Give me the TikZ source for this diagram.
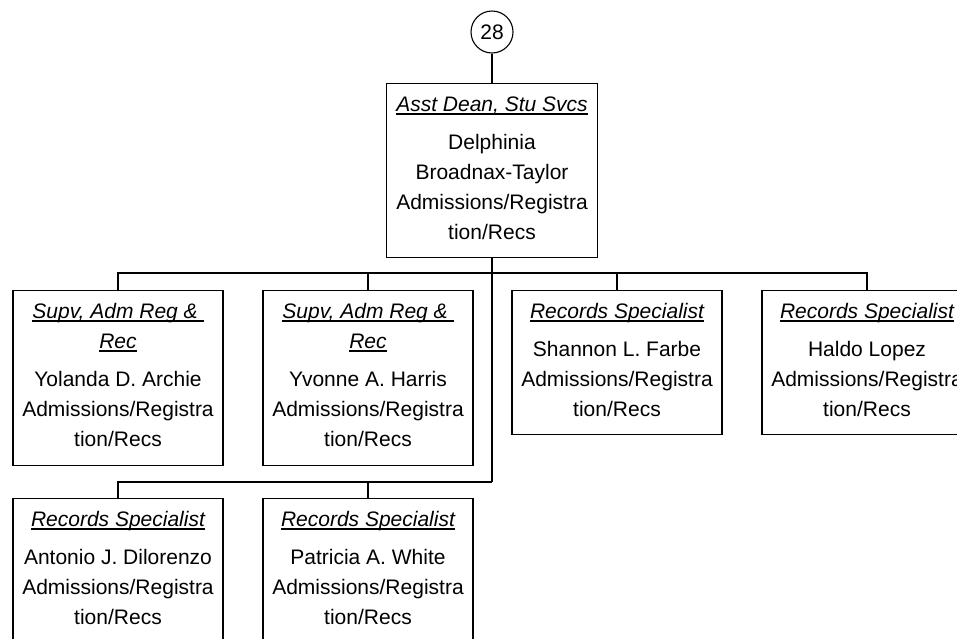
\documentclass[tikz,border=0pt]{standalone}
\usepackage{fontspec}
\setmainfont{Liberation Sans}
\newcommand\ulx[1]{{\setbox0=\hbox{#1}\rlap{\rule[-3.5pt]{\wd0}{1.1pt}}\box0}}
\begin{document}
\begin{tikzpicture}[x=1pt,y=-1pt,line width=1.1pt,
  box/.style={draw,rectangle,inner sep=0pt,minimum width=210pt,anchor=north},
  txt/.style={anchor=north,inner sep=0pt,align=center,yshift=-6.5pt,
    font=\fontsize{21}{30}\selectfont},
  circ/.style={draw,circle,inner sep=0pt,minimum size=42pt,font=\fontsize{21}{30}\selectfont}]
\useasboundingbox (0,0) rectangle (957,638);
% circle
\node[circ] (c) at (492,32) {28};
% top box
\node[box,minimum width=211pt,minimum height=174pt] (top) at (492,83) {};
\node[txt] (ttop) at (top.north) {\strut\ulx{\itshape Asst Dean, Stu Svcs}\\[8pt]Delphinia\\Broadnax-Taylor\\Admissions/Registra\\tion/Recs};
% row 1
\node[box,minimum height=175pt] (b1) at (118,290) {};
\node[txt] (t1) at (b1.north) {\strut\ulx{\itshape Supv, Adm Reg \& }\\\ulx{\itshape Rec}\\[8pt]Yolanda D. Archie\\Admissions/Registra\\tion/Recs};
\node[box,minimum height=175pt] (b2) at (368,290) {};
\node[txt] (t2) at (b2.north) {\strut\ulx{\itshape Supv, Adm Reg \& }\\\ulx{\itshape Rec}\\[8pt]Yvonne A. Harris\\Admissions/Registra\\tion/Recs};
\node[box,minimum height=144pt] (b3) at (617,290) {};
\node[txt] (t3) at (b3.north) {\strut\ulx{\itshape Records Specialist}\\[8pt]Shannon L. Farbe\\Admissions/Registra\\tion/Recs};
\node[box,minimum height=144pt] (b4) at (867,290) {};
\node[txt] (t4) at (b4.north) {\strut\ulx{\itshape Records Specialist}\\[8pt]Haldo Lopez\\Admissions/Registra\\tion/Recs};
% row 2
\node[box,minimum height=144pt] (c1) at (118,498) {};
\node[txt] (u1) at (c1.north) {\strut\ulx{\itshape Records Specialist}\\[8pt]Antonio J. Dilorenzo\\Admissions/Registra\\tion/Recs};
\node[box,minimum height=144pt] (c2) at (368,498) {};
\node[txt] (u2) at (c2.north) {\strut\ulx{\itshape Records Specialist}\\[8pt]Patricia A. White\\Admissions/Registra\\tion/Recs};
% junctions
\coordinate (j1) at (492,273);
\coordinate (j2) at (492,482);
% connectors
\draw (c) -- (top);
\draw (top.south) -- (j2);
\draw (b1.north) |- (j1) -| (b4.north);
\draw (b2.north) -- (b2.north |- j1);
\draw (b3.north) -- (b3.north |- j1);
\draw (c1.north) |- (j2);
\draw (c2.north) -- (c2.north |- j2);
\end{tikzpicture}
\end{document}
